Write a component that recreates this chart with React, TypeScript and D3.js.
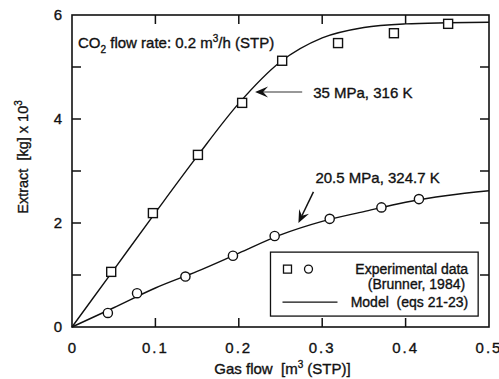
import React from "react";
import * as d3 from "d3";

const gasFlowSq = [0.047, 0.097, 0.151, 0.204, 0.252, 0.319, 0.386, 0.451];
const extract35 = [1.06, 2.19, 3.31, 4.31, 5.12, 5.46, 5.65, 5.83];
const gasFlowCi = [0.043, 0.078, 0.136, 0.193, 0.243, 0.309, 0.371, 0.416];
const extract205 = [0.27, 0.65, 0.97, 1.37, 1.75, 2.08, 2.3, 2.46];
const modelFlow = [0, 0.05, 0.1, 0.15, 0.2, 0.25, 0.3, 0.35, 0.4, 0.45, 0.5];
const model35 = [0, 1.1, 2.2, 3.28, 4.3, 5.1, 5.56, 5.76, 5.83, 5.85, 5.86];
const model205 = [0, 0.37, 0.75, 1.07, 1.42, 1.77, 2.03, 2.22, 2.4, 2.53, 2.62];
const xTickLabels = ["0", "0.1", "0.2", "0.3", "0.4", "0.5"];
const yTickLabels = ["0", "2", "4", "6"];

const W = 499;
const H = 379;
const M = { left: 72, right: 10, top: 15, bottom: 52 };
const FONT = "'Liberation Sans', Arial, Helvetica, sans-serif";
const TS = { fill: "#111", stroke: "#111", strokeWidth: 0.35 };

export default function App() {
  const x = d3.scaleLinear().domain([0, 0.5]).range([M.left, W - M.right]);
  const y = d3.scaleLinear().domain([0, 6]).range([H - M.bottom, M.top]);
  const x0 = x(0), x1 = x(0.5), y0 = y(0), y1 = y(6);
  const tl = 9;

  const line = d3
    .line<number>()
    .x((_, i) => x(modelFlow[i]))
    .y((d) => y(d))
    .curve(d3.curveMonotoneX);

  const xMinor = x.ticks(5).slice(1, -1);
  const yMinor = y.ticks(6).slice(1, -1);

  const arrowHead = (tx: number, ty: number, ang: number) => {
    const L = 13, Wd = 5.5, notch = 8;
    const c = Math.cos(ang), s = Math.sin(ang);
    const bx = tx - c * L, by = ty - s * L;
    const nx = tx - c * notch, ny = ty - s * notch;
    const p1 = [bx - s * Wd, by + c * Wd];
    const p2 = [bx + s * Wd, by - c * Wd];
    return `M${tx},${ty}L${p1[0]},${p1[1]}L${nx},${ny}L${p2[0]},${p2[1]}Z`;
  };

  const a1tip = [x(0.2195), y(4.52)];
  const a1tail = [x(0.276), y(4.52)];
  const a2tip = [x(0.2715), y(2.0)];
  const a2tail = [x(0.2895), y(2.6)];
  const ang2 = Math.atan2(a2tip[1] - a2tail[1], a2tip[0] - a2tail[0]);

  const legX = x(0.238), legY = y(1.44), legW = x(0.487) - x(0.238), legH = y(0.21) - y(1.44);

  return (
    <svg
      width={W}
      height={H}
      style={{ position: "absolute", left: 0, top: 0, background: "#fff" }}
      fontFamily={FONT}
    >
      <rect x={0} y={0} width={W} height={H} fill="#fff" />
      <path d={line(model35) || ""} fill="none" stroke="#111" strokeWidth={1.4} />
      <path d={line(model205) || ""} fill="none" stroke="#111" strokeWidth={1.4} />

      {/* legend */}
      <rect x={legX} y={legY} width={legW} height={legH} fill="#fff" stroke="#111" strokeWidth={1.3} />
      <rect x={legX + 13} y={legY + 13} width={8} height={8} fill="#fff" stroke="#111" strokeWidth={1.3} />
      <circle cx={legX + 38} cy={legY + 17} r={4} fill="#fff" stroke="#111" strokeWidth={1.3} />
      <text x={legX + legW - 10} y={legY + 22} fontSize={14} textAnchor="end" {...TS}>
        Experimental data
      </text>
      <text x={legX + legW - 13} y={legY + 37} fontSize={14} textAnchor="end" {...TS}>
        (Brunner, 1984)
      </text>
      <line x1={legX + 12} x2={legX + 67} y1={legY + 50} y2={legY + 50} stroke="#111" strokeWidth={1.3} />
      <text x={legX + legW - 10} y={legY + 55} fontSize={14} textAnchor="end" xmlSpace="preserve" {...TS}>
        Model  (eqs 21-23)
      </text>

      {/* axes frame */}
      <rect x={x0} y={y1} width={x1 - x0} height={y0 - y1} fill="none" stroke="#111" strokeWidth={1.6} />
      {xMinor.map((t) => (
        <g key={"xt" + t}>
          <line x1={x(t)} x2={x(t)} y1={y0} y2={y0 - tl} stroke="#111" strokeWidth={1.5} />
          <line x1={x(t)} x2={x(t)} y1={y1} y2={y1 + tl} stroke="#111" strokeWidth={1.5} />
        </g>
      ))}
      {yMinor.map((t) => (
        <g key={"yt" + t}>
          <line x1={x0} x2={x0 + tl} y1={y(t)} y2={y(t)} stroke="#111" strokeWidth={1.5} />
          <line x1={x1} x2={x1 - tl} y1={y(t)} y2={y(t)} stroke="#111" strokeWidth={1.5} />
        </g>
      ))}
      {xTickLabels.map((s, i) => (
        <text
          key={"xl" + s}
          x={x(i * 0.1)}
          y={y0 + 26}
          fontSize={15}
          textAnchor="middle"
          letterSpacing={i === 0 ? 0 : 2}
          {...TS}
        >
          {s}
        </text>
      ))}
      {yTickLabels.map((s, i) => (
        <text key={"yl" + s} x={x0 - 10} y={y(i * 2) + 5} fontSize={15} textAnchor="end" {...TS}>
          {s}
        </text>
      ))}

      {/* axis titles */}
      <text x={(x0 + x1) / 2 + 2} y={H - 5} fontSize={15} textAnchor="middle" xmlSpace="preserve" {...TS}>
        Gas flow  [m<tspan dy={-6} fontSize={10}>3</tspan>
        <tspan dy={6}> (STP)]</tspan>
      </text>
      <text transform={`translate(28,157) rotate(-90)`} fontSize={14.5} textAnchor="middle" xmlSpace="preserve" {...TS}>
        Extract  [kg] x 10<tspan dy={-6} fontSize={10}>3</tspan>
      </text>

      {/* CO2 label */}
      <text x={x0 + 6} y={y1 + 33} fontSize={15} {...TS}>
        CO<tspan dy={5} fontSize={10}>2</tspan>
        <tspan dy={-5}> flow rate: 0.2 m</tspan>
        <tspan dy={-6} fontSize={10}>3</tspan>
        <tspan dy={6}>/h (STP)</tspan>
      </text>

      {/* annotation arrows */}
      <line x1={a1tail[0]} y1={a1tail[1]} x2={a1tip[0] + 8} y2={a1tip[1]} stroke="#333" strokeWidth={1.1} />
      <path d={arrowHead(a1tip[0], a1tip[1], Math.PI)} fill="#111" />
      <text x={a1tail[0] + 11} y={a1tip[1] + 6} fontSize={15} {...TS}>
        35 MPa, 316 K
      </text>
      <line
        x1={a2tail[0]}
        y1={a2tail[1]}
        x2={a2tip[0] - Math.cos(ang2) * 8}
        y2={a2tip[1] - Math.sin(ang2) * 8}
        stroke="#111"
        strokeWidth={1.5}
      />
      <path d={arrowHead(a2tip[0], a2tip[1], ang2)} fill="#111" />
      <text x={a2tail[0] + 2} y={a2tail[1] - 9} fontSize={15} {...TS}>
        20.5 MPa, 324.7 K
      </text>

      {/* experimental points */}
      {gasFlowSq.map((g, i) => (
        <rect
          key={"sq" + i}
          x={x(g) - 4.5}
          y={y(extract35[i]) - 4.5}
          width={9}
          height={9}
          fill="#fff"
          stroke="#111"
          strokeWidth={1.4}
        />
      ))}
      {gasFlowCi.map((g, i) => (
        <circle key={"ci" + i} cx={x(g)} cy={y(extract205[i])} r={4.6} fill="#fff" stroke="#111" strokeWidth={1.4} />
      ))}
    </svg>
  );
}
